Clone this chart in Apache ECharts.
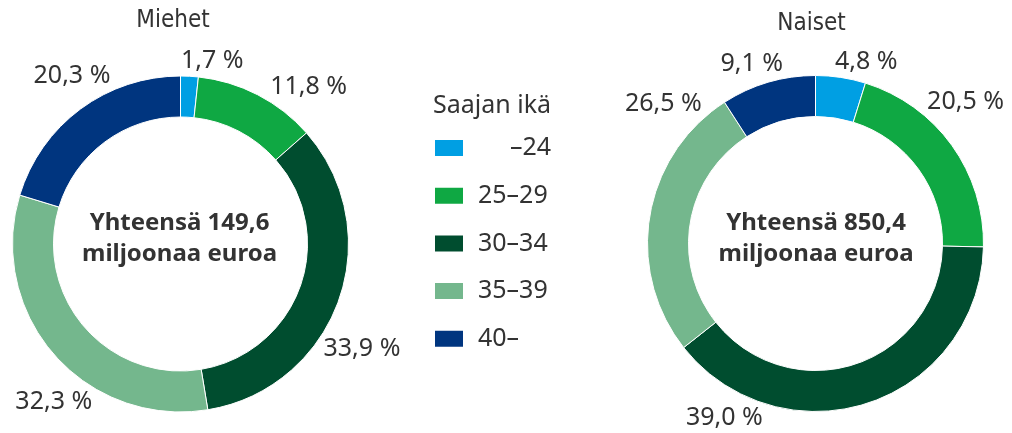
<!DOCTYPE html>
<html>
<head>
<meta charset="utf-8">
<script src="https://cdn.jsdelivr.net/npm/echarts@6/dist/echarts.min.js"></script>
<style>
  html, body { margin: 0; padding: 0; background: #fff; }
  #chart { width: 1012px; height: 433px; }
</style>
</head>
<body>
<div id="chart"></div>
<script>
// age groups of the recipients
const ageGroups = ['–24', '25–29', '30–34', '35–39', '40–'];
// share of the total, %
const menShares = [1.7, 11.8, 33.9, 32.3, 20.3];
const womenShares = [4.8, 20.5, 39.0, 26.5, 9.1];
const menTotal = '149,6';
const womenTotal = '850,4';

const colors = ['#009FE3', '#0FA843', '#004D2F', '#74B78D', '#00357F'];
const textColor = '#333333';
const font = "'Noto Sans', sans-serif";

const menCenter = [180.5, 244];
const womenCenter = [815.5, 243.5];

// labels sit just outside the ring; nudges (degrees) follow the original hand placement
const menNudge = [-2.9, 4.5, 13.1, -17.5, 12.2];
const womenNudge = [-2.1, -13.2, 36.6, 38.6, 5.4];

function fmt(v) {
    return v.toFixed(1).replace('.', ',') + ' %';
}

function labelPlacer(values, center, nudge) {
    const total = values.reduce((a, b) => a + b, 0);
    return function (p) {
        let before = 0;
        for (let i = 0; i < p.dataIndex; i++) before += values[i];
        const mid = (before + values[p.dataIndex] / 2) / total * 360 + nudge[p.dataIndex];
        const a = mid * Math.PI / 180;
        const s = Math.sin(a), c = Math.cos(a);
        const r = 170;
        return {
            x: center[0] + r * s,
            y: center[1] - r * c,
            align: s >= 0 ? 'left' : 'right',
            verticalAlign: c >= 0 ? 'bottom' : 'top'
        };
    };
}

function donut(name, values, center, nudge) {
    return {
        type: 'pie',
        name: name,
        center: center,
        radius: [127, 168],
        startAngle: 90,
        clockwise: true,
        avoidLabelOverlap: false,
        animation: false,
        itemStyle: { borderColor: '#fff', borderWidth: 1 },
        label: {
            show: true,
            position: 'outside',
            color: textColor,
            fontFamily: font,
            fontSize: 25,
            lineHeight: 26,
            formatter: (p) => fmt(p.value)
        },
        labelLine: { show: false },
        labelLayout: labelPlacer(values, center, nudge),
        emphasis: { disabled: true },
        data: ageGroups.map((g, i) => ({ name: g, value: values[i] }))
    };
}

const chart = echarts.init(document.getElementById('chart'), null, { renderer: 'canvas' });

chart.setOption({
    color: colors,
    backgroundColor: '#fff',
    legend: {
        orient: 'vertical',
        left: 433,
        top: 133,
        padding: 0,
        icon: 'rect',
        itemWidth: 30,
        itemHeight: 18,
        itemGap: 17.7,
        selectedMode: false,
        data: ageGroups,
        formatter: (n) => n.startsWith('–') ? '{r|' + n + '}' : '{l|' + n + '}',
        textStyle: {
            color: textColor,
            fontFamily: font,
            fontSize: 25,
            lineHeight: 30,
            rich: {
                r: { width: 73, align: 'right', fontSize: 25, fontFamily: font, color: textColor, padding: [0, 0, 0, 9] },
                l: { fontSize: 25, fontFamily: font, color: textColor, padding: [0, 0, 0, 9] }
            }
        }
    },
    graphic: [
        {
            type: 'text', x: 173, y: 21,
            style: { text: 'Miehet', align: 'center', verticalAlign: 'middle', fill: textColor,
                font: "24px 'Liberation Sans Narrow', 'DejaVu Sans Condensed', sans-serif" }
        },
        {
            type: 'text', x: 811.5, y: 24,
            style: { text: 'Naiset', align: 'center', verticalAlign: 'middle', fill: textColor,
                font: "24px 'Liberation Sans Narrow', 'DejaVu Sans Condensed', sans-serif" }
        },
        {
            type: 'text', x: 433, y: 106,
            style: { text: 'Saajan ikä', align: 'left', verticalAlign: 'middle', fill: textColor,
                font: "25px 'Noto Sans', sans-serif" }
        },
        {
            type: 'text', x: 179.5, y: 239,
            style: { text: 'Yhteensä ' + menTotal + '\nmiljoonaa euroa', align: 'center', verticalAlign: 'middle',
                fill: textColor, font: "bold 24px 'Noto Sans', sans-serif", lineHeight: 31 }
        },
        {
            type: 'text', x: 816, y: 239,
            style: { text: 'Yhteensä ' + womenTotal + '\nmiljoonaa euroa', align: 'center', verticalAlign: 'middle',
                fill: textColor, font: "bold 24px 'Noto Sans', sans-serif", lineHeight: 31 }
        }
    ],
    series: [
        donut('Miehet', menShares, menCenter, menNudge),
        donut('Naiset', womenShares, womenCenter, womenNudge)
    ]
});

window.addEventListener('resize', () => chart.resize());
</script>
</body>
</html>
